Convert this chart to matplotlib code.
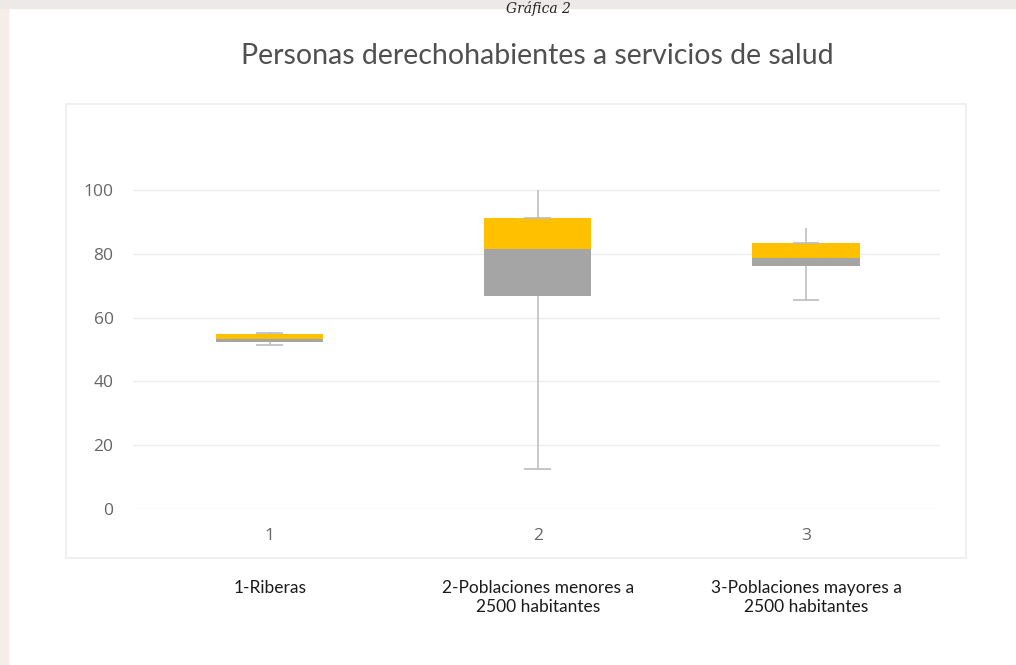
import numpy as np
import matplotlib.pyplot as plt
from matplotlib.patches import Rectangle
plt.rcParams['font.family'] = ['Open Sans', 'DejaVu Sans']

# box-plot summary values
positions = [1, 2, 3]
q1 = [52.4, 66.8, 76.2]
median = [53.3, 81.5, 78.7]
q3 = [54.9, 91.2, 83.4]
whisker_lo = [51.4, 12.5, 65.5]
whisker_hi = [55.5, 100.0, 88.0]
cap_lo = [51.4, 12.5, 65.5]
cap_hi = [55.0, 91.2, 83.4]
yticks = [0, 20, 40, 60, 80, 100]
categories = ['1-Riberas', '2-Poblaciones menores a\n2500 habitantes',
              '3-Poblaciones mayores a\n2500 habitantes']

gray = '#A5A5A5'
gold = '#FFC000'

fig = plt.figure(figsize=(10.16, 6.65), dpi=100)
fig.patch.set_facecolor('white')

# faint page background bits at the edges
fig.patches.append(Rectangle((0, 0), 8 / 1016, 1, transform=fig.transFigure,
                             color='#f6ede9', zorder=0))
fig.patches.append(Rectangle((0, 1 - 8 / 665), 1, 8 / 665, transform=fig.transFigure,
                             color='#ede9e7', zorder=0))
fig.text(0.53, 0.999, 'Gráfica 2', ha='center', va='top', fontsize=10,
         style='italic', family='DejaVu Serif', color='#222222')

# chart frame
fig.patches.append(Rectangle((66 / 1016, 1 - 558 / 665), 900 / 1016, 454 / 665,
                             transform=fig.transFigure, fill=False,
                             edgecolor='#ececec', lw=1.2, zorder=1))

ax = fig.add_axes([133 / 1016, 1 - 509 / 665, 807 / 1016, 383 / 665])
ax.set_xlim(0.49, 3.5)
ax.set_ylim(0, 120)

w = 0.4
pos = np.array(positions)
ax.vlines(pos, whisker_lo, whisker_hi, color='#c4c4c4', lw=1.3, zorder=2)
ax.hlines(cap_lo, pos - 0.05, pos + 0.05, color='#bcbcbc', lw=1.2, zorder=2)
ax.bar(pos, np.array(median) - np.array(q1), bottom=q1, width=w, color=gray, zorder=3)
ax.bar(pos, np.array(q3) - np.array(median), bottom=median, width=w, color=gold, zorder=3)
ax.hlines(cap_hi, pos - 0.05, pos + 0.05, color='#bcbcbc', lw=1.2, zorder=4)

ax.set_yticks(yticks)
ax.yaxis.grid(True, color='#ececec', lw=1)
ax.set_axisbelow(True)
for s in ax.spines.values():
    s.set_visible(False)
ax.tick_params(axis='y', length=0, pad=14, labelsize=12.5, labelcolor='#666666')
ax.set_xticks(positions)
ax.set_xticklabels([str(p) for p in positions])
ax.tick_params(axis='x', length=0, pad=14, labelsize=12.5, labelcolor='#666666')

for p, lab in zip(positions, categories):
    ax.text(p, -0.185, lab, transform=ax.get_xaxis_transform(), ha='center',
            va='top', fontsize=12.5, color='#1a1a1a', linespacing=1.22,
            family=['Lato', 'DejaVu Sans'])

fig.text(537 / 1016, 1 - 56 / 665, 'Personas derechohabientes a servicios de salud',
         ha='center', va='center', fontsize=20.5, color='#505050',
         family=['Lato', 'DejaVu Sans'])

fig.savefig('out.png', dpi=100)
